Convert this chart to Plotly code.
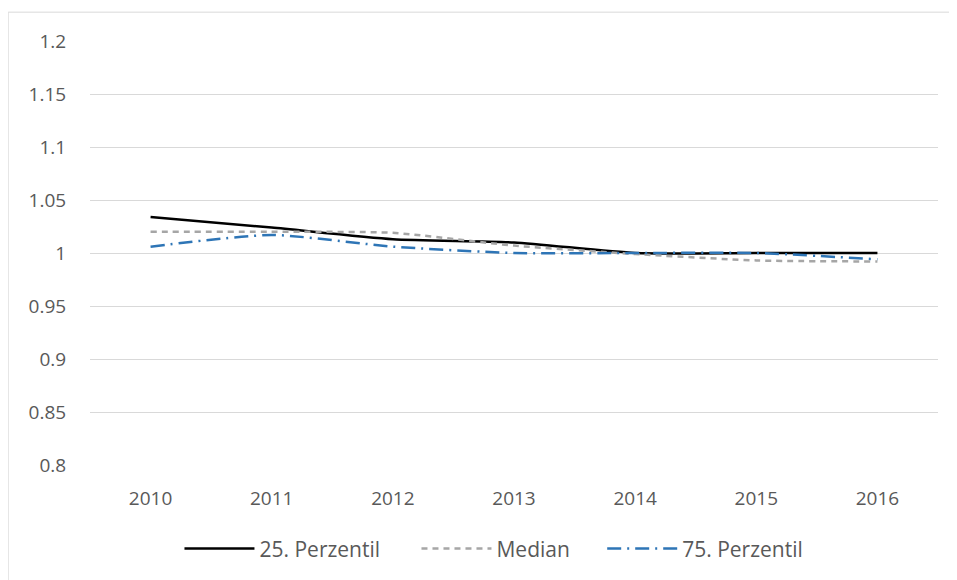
import plotly.graph_objects as go

years = ["2010", "2011", "2012", "2013", "2014", "2015", "2016"]
p25 = [1.034, 1.024, 1.013, 1.010, 1.000, 1.000, 1.000]
median = [1.020, 1.020, 1.019, 1.007, 0.999, 0.993, 0.992]
p75 = [1.006, 1.017, 1.006, 1.000, 1.000, 1.000, 0.994]
y_ticks = [0.8, 0.85, 0.9, 0.95, 1.0, 1.05, 1.1, 1.15, 1.2]
y_labels = ["0.8", "0.85", "0.9", "0.95", "1", "1.05", "1.1", "1.15", "1.2"]

fig = go.Figure()
fig.add_trace(go.Scatter(x=years, y=p25, name="25. Perzentil", mode="lines", legend="legend",
                         line=dict(color="black", width=2.5, shape="spline", smoothing=0.6)))
fig.add_trace(go.Scatter(x=years, y=median, name="Median", mode="lines", legend="legend2",
                         line=dict(color="#a6a6a6", width=2.5, dash="6px,5px", shape="spline", smoothing=0.6)))
fig.add_trace(go.Scatter(x=years, y=p75, name="75. Perzentil", mode="lines", legend="legend3",
                         line=dict(color="#2e75b6", width=2.5, dash="14px,6px,2px,6px", shape="spline", smoothing=0.6)))

font_color = "#595959"
leg = dict(orientation="h", xanchor="left", y=-0.198, yanchor="middle",
           font=dict(size=21, color=font_color), itemwidth=70, visible=True)
# page body adds an 8px margin, so the figure is drawn 8px smaller with shifted margins
fig.update_layout(
    width=949, height=572,
    margin=dict(l=82, r=19, t=33, b=115, autoexpand=False),
    plot_bgcolor="white", paper_bgcolor="white",
    showlegend=True,
    font=dict(family="Open Sans, Noto Sans, sans-serif", size=19, color=font_color),
    xaxis=dict(type="category", showgrid=False, showline=False,
               ticks="outside", ticklen=16, tickcolor="white",
               range=[-0.5, 6.5]),
    yaxis=dict(range=[0.8, 1.2], tickvals=y_ticks, ticktext=y_labels,
               showgrid=True, gridcolor="#d9d9d9", gridwidth=1,
               zeroline=False, showline=False,
               ticks="outside", ticklen=19, tickcolor="white"),
    legend=dict(leg, x=0.1055),
    legend2=dict(leg, x=0.385),
    legend3=dict(leg, x=0.604),
    shapes=[dict(type="path", xref="paper", yref="paper",
                 path="M -0.0965 -0.5 L -0.0965 1.068 L 1.2 1.068",
                 line=dict(color="#d9d9d9", width=1), layer="below")],
)

fig.write_html("out.html")
